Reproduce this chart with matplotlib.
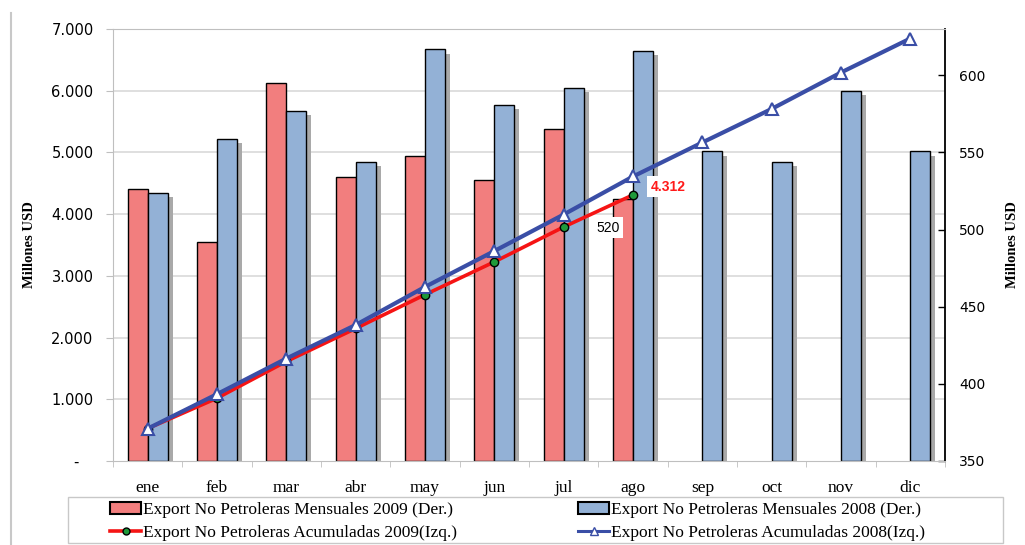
import matplotlib
matplotlib.use("Agg")
import matplotlib.pyplot as plt
from matplotlib.lines import Line2D
from matplotlib.patches import Patch, Rectangle
from matplotlib.ticker import FuncFormatter, FixedLocator
import numpy as np

# Monthly non-oil exports (right axis) and year-to-date totals (left axis), millions USD
months = ["ene", "feb", "mar", "abr", "may", "jun", "jul", "ago", "sep", "oct", "nov", "dic"]
mensual_2009 = [526, 492, 595, 534, 548, 532, 565, 520]
mensual_2008 = [524, 559, 577, 544, 617, 581, 592, 616, 551, 544, 590, 551]
acum_2009 = [526, 1018, 1613, 2147, 2695, 3227, 3792, 4312]
acum_2008 = [524, 1083, 1660, 2204, 2821, 3402, 3994, 4610, 5161, 5705, 6295, 6846]

lbl_m09 = "Export No Petroleras Mensuales 2009 (Der.)"
lbl_m08 = "Export No Petroleras Mensuales 2008 (Der.)"
lbl_a09 = "Export No Petroleras Acumuladas 2009(Izq.)"
lbl_a08 = "Export No Petroleras Acumuladas 2008(Izq.)"

RED_BAR = "#F27E7E"
BLUE_BAR = "#93B1D6"
RED_LINE = "#F51414"
BLUE_LINE = "#3A4EA6"
GRID = "#D9D9D9"
SERIF = "Liberation Serif"

W, H = 1025, 545
fig = plt.figure(figsize=(W / 100, H / 100), dpi=100)
fig.patch.set_facecolor("white")

x0, x1, y0, y1 = 113, 945, 29, 461
ax = fig.add_axes([x0 / W, 1 - y1 / H, (x1 - x0) / W, (y1 - y0) / H])
axl = ax.twinx()

# right-hand scale (bars)
r_lo, r_hi = 350, 630
l_lo, l_hi = 0, 7000
ax.set_ylim(r_lo, r_hi)
ax.set_xlim(-0.5, len(months) - 0.5)

# horizontal gridlines follow the left-hand thousands
for v in range(1000, 7001, 1000):
    ax.axhline(r_lo + (v - l_lo) / (l_hi - l_lo) * (r_hi - r_lo), color=GRID, lw=1.2, zorder=0)

bw = 0.29
xi09 = np.arange(len(mensual_2009))
xi08 = np.arange(len(mensual_2008))
v09 = np.array(mensual_2009)
v08 = np.array(mensual_2008)

# soft drop shadow to the right of the 2008 bars
ax.bar(xi08 + bw / 2 + 0.07, v08 - r_lo - 3, bottom=r_lo, width=bw, color="#A9A9A9",
       edgecolor="none", zorder=1)
ax.bar(xi09 - bw / 2, v09 - r_lo, bottom=r_lo, width=bw, color=RED_BAR,
       edgecolor="black", linewidth=1.0, zorder=2)
ax.bar(xi08 + bw / 2, v08 - r_lo, bottom=r_lo, width=bw, color=BLUE_BAR,
       edgecolor="black", linewidth=1.0, zorder=2)

ax.yaxis.tick_right()
ax.yaxis.set_label_position("right")
ax.set_yticks(range(350, 601, 50))
ax.tick_params(axis="y", direction="in", length=5, width=1, color="black",
               labelsize=10, pad=10)
ax.set_ylabel("Millones USD", family=SERIF, fontweight="bold", fontsize=10.5, labelpad=15)

ax.set_xticks(range(len(months)))
ax.set_xticklabels(months, family=SERIF, fontsize=12.5)
ax.xaxis.set_minor_locator(FixedLocator(np.arange(-0.5, len(months), 1.0)))
ax.tick_params(axis="x", which="major", length=0, pad=14)
ax.tick_params(axis="x", which="minor", length=4, color="#BFBFBF", direction="out")

for side in ("left", "top", "bottom"):
    ax.spines[side].set_color("#BFBFBF")
ax.spines["right"].set_color("black")
ax.spines["right"].set_linewidth(1.3)

# left-hand scale (accumulated lines)
axl.set_ylim(l_lo, l_hi)
axl.yaxis.tick_left()
axl.yaxis.set_label_position("left")
axl.set_yticks(range(0, 7001, 1000))
axl.yaxis.set_major_formatter(FuncFormatter(
    lambda v, p: "-   " if v == 0 else f"{v:,.0f}".replace(",", ".")))
axl.tick_params(axis="y", direction="out", length=5, color="#BFBFBF", labelsize=10.5, pad=9)
axl.set_ylabel("Millones USD", family=SERIF, fontweight="bold", fontsize=10.5, labelpad=11)
for s in axl.spines.values():
    s.set_visible(False)

axl.plot(range(len(acum_2009)), acum_2009, color=RED_LINE, lw=2.6, marker="o",
         markerfacecolor="#1F9A3A", markeredgecolor="black", markersize=6, zorder=3)
axl.plot(range(len(acum_2008)), acum_2008, color=BLUE_LINE, lw=3.0, marker="^",
         markerfacecolor="white", markeredgecolor=BLUE_LINE, markeredgewidth=1.5,
         markersize=8, zorder=4)

axl.annotate(f"{acum_2009[-1]:,}".replace(",", "."), xy=(len(acum_2009) - 1, acum_2009[-1]),
             xytext=(25, 6), textcoords="offset points", ha="center", va="center",
             color="#FF1A1A", fontweight="bold", fontsize=10, family="Liberation Sans",
             bbox=dict(facecolor="white", edgecolor="none", pad=2.5), zorder=6)
axl.annotate(f"{mensual_2009[-1]}", xy=(len(mensual_2009) - 1 - bw / 2, mensual_2009[-1]),
             xycoords=ax.transData, xytext=(-11, -21), textcoords="offset points",
             ha="center", va="center", color="black", fontsize=10, family="Liberation Sans",
             bbox=dict(facecolor="white", edgecolor="none", pad=2.5), zorder=6)

# legend, boxed below the plot in two columns
h_m09 = Patch(facecolor=RED_BAR, edgecolor="black", linewidth=1.5)
h_m08 = Patch(facecolor=BLUE_BAR, edgecolor="black", linewidth=1.5)
h_a09 = Line2D([], [], color=RED_LINE, lw=2.6, marker="o", markerfacecolor="#1F9A3A",
               markeredgecolor="black", markersize=5)
h_a08 = Line2D([], [], color=BLUE_LINE, lw=2.2, marker="^", markerfacecolor="white",
               markeredgecolor=BLUE_LINE, markersize=6)
leg_kw = dict(frameon=False, prop=dict(family=SERIF, size=12.5), handlelength=1.8,
              handletextpad=0.1, labelspacing=0.4, borderpad=0, borderaxespad=0,
              loc="upper left")
fig.legend([h_m09, h_a09], [lbl_m09, lbl_a09], bbox_to_anchor=(110 / W, 1 - 502 / H), **leg_kw)
fig.legend([h_m08, h_a08], [lbl_m08, lbl_a08], bbox_to_anchor=(578 / W, 1 - 502 / H), **leg_kw)
fig.patches.append(Rectangle((68 / W, 1 - 543 / H), (1003 - 68) / W, (543 - 497) / H,
                             transform=fig.transFigure, fill=False, edgecolor="#C8C8C8", lw=1))

# outer frame edge on the left
fig.add_artist(Line2D([11 / W, 11 / W], [0, 1 - 13 / H], transform=fig.transFigure,
                      color="#C8C8C8", lw=1.5))

fig.savefig("out.png", dpi=100)
